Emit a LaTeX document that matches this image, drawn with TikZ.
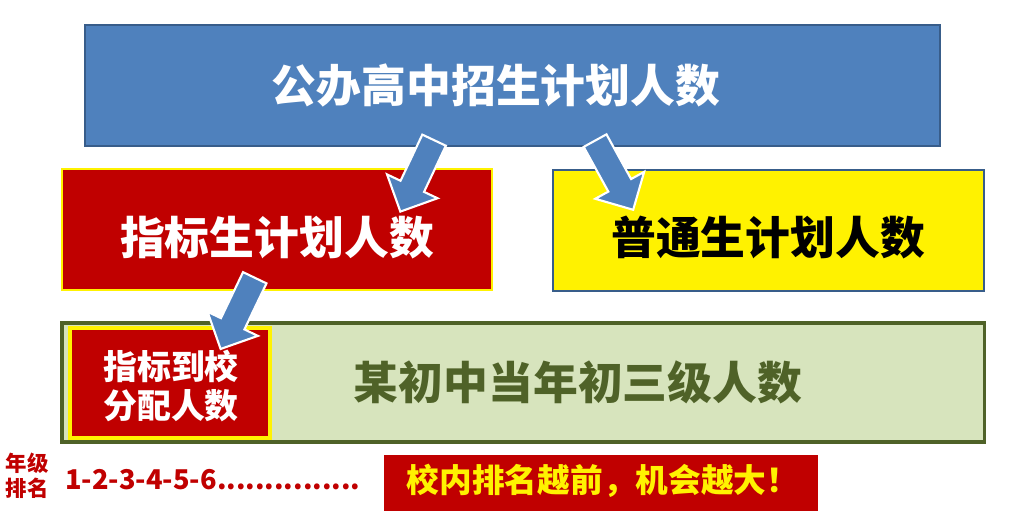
\documentclass[tikz,border=0pt]{standalone}
\usepackage{fontspec}
\newfontfamily\cjk{Noto Sans CJK SC}
\usetikzlibrary{shapes.arrows}
\definecolor{hblue}{HTML}{4F81BD}
\definecolor{hblueline}{HTML}{385D8A}
\definecolor{hred}{HTML}{C00000}
\definecolor{hgreen}{HTML}{D7E4BD}
\definecolor{hgreenline}{HTML}{4F6228}
\begin{document}
\begin{tikzpicture}[x=0.02cm,y=-0.02cm,
box/.style={anchor=north west,inner sep=0pt,outer sep=0pt},
txt/.style={inner sep=0pt,font=\cjk\bfseries\fontsize{25.5}{30}\selectfont},
bigarrow/.style={single arrow,draw=white,fill=hblue,line width=1.2pt,inner xsep=0pt,inner ysep=6.8pt,minimum height=1.58cm,single arrow head extend=8.5pt,midway,sloped,allow upside down}]
\useasboundingbox (0,0) rectangle (1014,531);
% boxes
\node[box,draw=hblueline,fill=hblue,line width=1.2pt,minimum width=17.1cm,minimum height=2.42cm] (top) at (85,25) {};
\node[box,draw=yellow,fill=hred,line width=1.2pt,minimum width=8.6cm,minimum height=2.42cm] (zb) at (62,169) {};
\node[box,draw=hblueline,fill=yellow,line width=1.2pt,minimum width=8.62cm,minimum height=2.42cm] (pt) at (553,170) {};
\node[box,draw=hgreenline,fill=hgreen,line width=1.8pt,minimum width=18.46cm,minimum height=2.38cm] (nj) at (62,323) {};
\node[box,draw=yellow,fill=hred,line width=1.8pt,minimum width=4.0cm,minimum height=2.2cm] (fp) at (70,328) {};
\node[box,fill=hred,minimum width=8.68cm,minimum height=1.12cm] (jh) at (384,455) {};
% texts
\node[txt,white] (ttop) at (496,85) {公办高中招生计划人数};
\node[txt,white] (tzb) at (277,238) {指标生计划人数};
\node[txt] (tpt) at (768,237) {普通生计划人数};
\node[txt,hgreenline] (tnj) at (578,382) {某初中当年初三级人数};
\node[txt,white,align=center,font=\cjk\bfseries\fontsize{19.3}{22.7}\selectfont] (tfp) at (171,386) {指标到校\\分配人数};
\node[txt,hred,align=center,font=\cjk\bfseries\fontsize{12.2}{14}\selectfont] (tnp) at (27,476) {年级\\排名};
\node[txt,hred,anchor=west,font=\cjk\bfseries\fontsize{15.5}{18}\selectfont] (tpm) at (65,480) {1-2-3-4-5-6...............};
\node[txt,yellow,font=\cjk\bfseries\fontsize{18.6}{22}\selectfont] (tjh) at (603,481) {校内排名越前，机会越大！};
% arrows
\coordinate (s1) at (437,134); \coordinate (e1) at (403,206);
\coordinate (s2) at (592,135); \coordinate (e2) at (630,204);
\coordinate (s3) at (258,271); \coordinate (e3) at (223,344);
\foreach \i in {1,2,3}{\path (s\i) -- (e\i) node[bigarrow] (a\i){};};
\end{tikzpicture}
\end{document}
